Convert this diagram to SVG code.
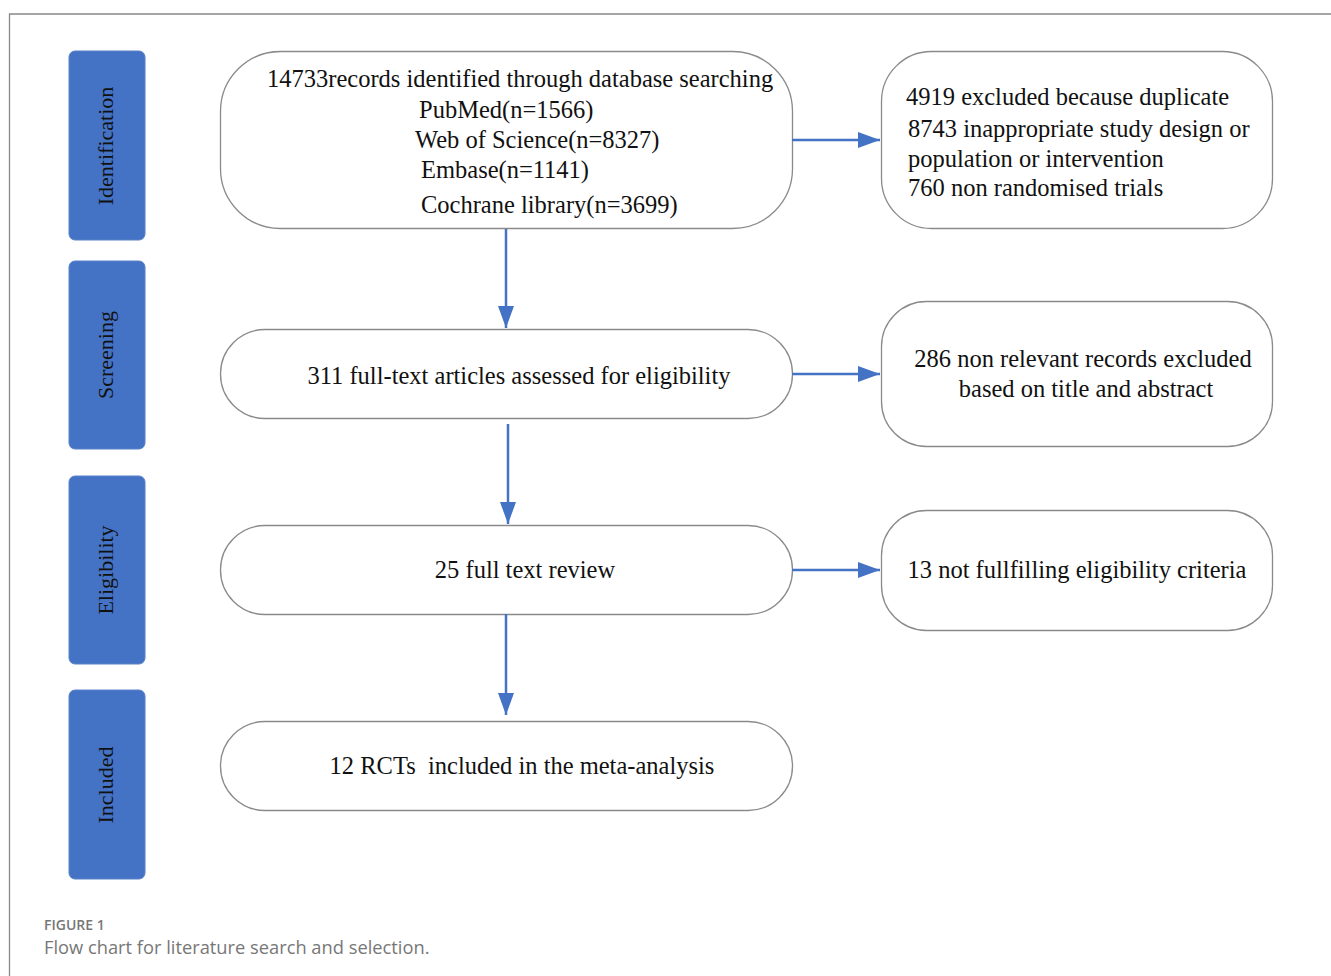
<svg xmlns="http://www.w3.org/2000/svg" width="1331" height="976" viewBox="0 0 1331 976">
<defs>
<style>
.stage{fill:#4472C4;stroke:#5b82c9;stroke-width:1}
.stxt{font-family:"Liberation Serif","Times New Roman",serif;font-size:22px;fill:#111;text-anchor:middle}
.box{fill:#fff;stroke:#8a8a8a;stroke-width:1.3}
.t{font-family:"Liberation Serif","Times New Roman",serif;font-size:24.5px;fill:#111;white-space:pre}
.c{text-anchor:middle}
.conn{stroke:#4472C4;stroke-width:2.5;fill:none}
.cap1{font-family:"Open Sans","Noto Sans",sans-serif;font-size:14px;font-weight:600;fill:#777}
.cap2{font-family:"Open Sans","Noto Sans",sans-serif;font-size:18.3px;fill:#777}
</style>
<marker id="ah" markerWidth="22" markerHeight="16" viewBox="0 0 22 16" refX="22" refY="8" orient="auto" markerUnits="userSpaceOnUse">
<path d="M0,0 L22,8 L0,16 Z" fill="#4472C4"/>
</marker>
</defs>
<rect width="1331" height="976" fill="#fff"/>
<path d="M1331,14 H9.5 V976" fill="none" stroke="#888" stroke-width="1.3"/>

<g id="stage-identification">
<rect class="stage" x="69" y="51" width="76" height="189" rx="6"/>
<text class="stxt" transform="translate(113,146) rotate(-90)">Identification</text>
</g>
<g id="stage-screening">
<rect class="stage" x="69" y="261" width="76" height="188" rx="6"/>
<text class="stxt" transform="translate(113,355) rotate(-90)">Screening</text>
</g>
<g id="stage-eligibility">
<rect class="stage" x="69" y="476" width="76" height="188" rx="6"/>
<text class="stxt" transform="translate(113,570) rotate(-90)">Eligibility</text>
</g>
<g id="stage-included">
<rect class="stage" x="69" y="690" width="76" height="189" rx="6"/>
<text class="stxt" transform="translate(113,785) rotate(-90)">Included</text>
</g>

<g id="records">
<rect class="box" x="220.5" y="51.5" width="572" height="177" rx="60"/>
<text class="t" x="267" y="87">14733records identified through database searching</text>
<text class="t" x="419" y="118">PubMed(n=1566)</text>
<text class="t" x="415" y="148">Web of Science(n=8327)</text>
<text class="t" x="421" y="178">Embase(n=1141)</text>
<text class="t" x="421" y="213">Cochrane library(n=3699)</text>
</g>
<g id="excluded1">
<rect class="box" x="881.5" y="51.5" width="391" height="177" rx="50"/>
<text class="t" x="906" y="105">4919 excluded because duplicate</text>
<text class="t" x="908" y="137">8743 inappropriate study design or</text>
<text class="t" x="908" y="167">population or intervention</text>
<text class="t" x="908" y="196">760 non randomised trials</text>
</g>
<g id="fulltext">
<rect class="box" x="220.5" y="329.5" width="572" height="89" rx="44.5"/>
<text class="t c" x="519" y="384">311 full-text articles assessed for eligibility</text>
</g>
<g id="excluded2">
<rect class="box" x="881.5" y="301.5" width="391" height="145" rx="45"/>
<text class="t c" x="1083" y="367">286 non relevant records excluded</text>
<text class="t c" x="1086" y="397">based on title and abstract</text>
</g>
<g id="review">
<rect class="box" x="220.5" y="525.5" width="572" height="89" rx="44.5"/>
<text class="t c" x="525" y="578">25 full text review</text>
</g>
<g id="excluded3">
<rect class="box" x="881.5" y="510.5" width="391" height="120" rx="45"/>
<text class="t c" x="1077" y="578">13 not fullfilling eligibility criteria</text>
</g>
<g id="included">
<rect class="box" x="220.5" y="721.5" width="572" height="89" rx="44.5"/>
<text class="t c" x="522" y="774">12 RCTs  included in the meta-analysis</text>
</g>

<g id="connectors">
<line class="conn" x1="506" y1="229" x2="506" y2="328" marker-end="url(#ah)"/>
<line class="conn" x1="508" y1="424" x2="508" y2="524" marker-end="url(#ah)"/>
<line class="conn" x1="506" y1="614" x2="506" y2="715" marker-end="url(#ah)"/>
<line class="conn" x1="792" y1="140" x2="880" y2="140" marker-end="url(#ah)"/>
<line class="conn" x1="792" y1="374" x2="880" y2="374" marker-end="url(#ah)"/>
<line class="conn" x1="792" y1="570" x2="880" y2="570" marker-end="url(#ah)"/>
</g>

<g id="caption">
<text class="cap1" x="44" y="930">FIGURE 1</text>
<text class="cap2" x="44" y="954">Flow chart for literature search and selection.</text>
</g>
</svg>
